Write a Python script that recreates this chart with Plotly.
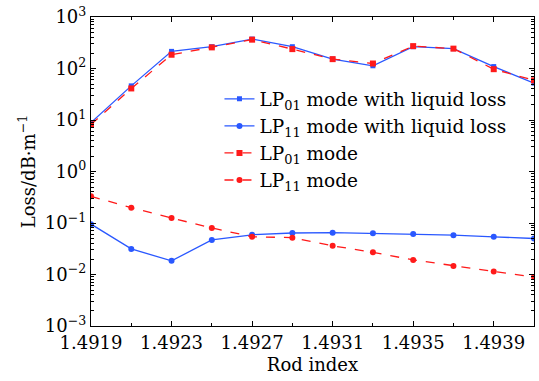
import plotly.graph_objects as go

# Rod refractive index (x) and modal losses in dB/m
rod_index = [1.4919, 1.4921, 1.4923, 1.4925, 1.4927, 1.4929,
             1.4931, 1.4933, 1.4935, 1.4937, 1.4939, 1.4941]

lp01_liquid = [8.9, 46, 215, 265, 373, 265, 152, 113, 265, 243, 109, 52]
lp11_liquid = [0.095, 0.0314, 0.0184, 0.047, 0.059, 0.064,
               0.065, 0.063, 0.061, 0.058, 0.054, 0.050]
lp01 = [8.2, 41, 185, 257, 363, 238, 152, 125, 272, 243, 97, 59]
lp11 = [0.33, 0.198, 0.125, 0.080, 0.054, 0.052,
        0.036, 0.027, 0.0192, 0.0147, 0.0114, 0.0089]

x_ticks = [1.4919, 1.4923, 1.4927, 1.4931, 1.4935, 1.4939]
y_exps = [-3, -2, -1, 0, 1, 2, 3]

BLUE = "#2a58ff"
RED = "#ff1a1a"
FONT = "DejaVu Serif"

fig = go.Figure()
fig.add_trace(go.Scatter(
    x=rod_index, y=lp01_liquid, mode="lines+markers",
    name="LP<sub>01</sub> mode with liquid loss",
    line=dict(color=BLUE, width=1.3),
    marker=dict(symbol="square", size=5, color=BLUE)))
fig.add_trace(go.Scatter(
    x=rod_index, y=lp11_liquid, mode="lines+markers",
    name="LP<sub>11</sub> mode with liquid loss",
    line=dict(color=BLUE, width=1.3),
    marker=dict(symbol="circle", size=6, color=BLUE)))
fig.add_trace(go.Scatter(
    x=rod_index, y=lp01, mode="lines+markers",
    name="LP<sub>01</sub> mode",
    line=dict(color=RED, width=1.3, dash="dash"),
    marker=dict(symbol="square", size=6, color=RED)))
fig.add_trace(go.Scatter(
    x=rod_index, y=lp11, mode="lines+markers",
    name="LP<sub>11</sub> mode",
    line=dict(color=RED, width=1.3, dash="dash"),
    marker=dict(symbol="circle", size=6, color=RED)))

fig.update_layout(
    width=539, height=381,
    margin=dict(l=91, r=4, t=15, b=55),
    plot_bgcolor="white", paper_bgcolor="white",
    font=dict(family=FONT, size=18, color="black"),
    showlegend=True,
    legend=dict(x=0.29, y=0.795, xanchor="left", yanchor="top",
                bgcolor="rgba(0,0,0,0)", borderwidth=0,
                font=dict(family=FONT, size=18.5),
                tracegroupgap=0, itemwidth=30),
)

fig.update_xaxes(
    range=[1.4919, 1.4941],
    tickvals=x_ticks, ticktext=[f"{v:.4f}" for v in x_ticks],
    tickfont=dict(size=18),
    ticks="inside", ticklen=5, tickcolor="black",
    minor=dict(ticks="inside", ticklen=3, dtick=0.0002, tick0=1.4919, tickcolor="black"),
    showline=True, linecolor="black", linewidth=1.2, mirror="allticks",
    showgrid=False, zeroline=False,
    title=dict(text="Rod index", standoff=6, font=dict(size=18)),
)

fig.update_yaxes(
    type="log", range=[-3, 3],
    tickvals=[10.0 ** e for e in y_exps],
    ticktext=[f"10<sup>{e}</sup>".replace("-", "\u2212") for e in y_exps],
    tickfont=dict(size=18),
    ticks="inside", ticklen=5, tickcolor="black",
    minor=dict(ticks="inside", ticklen=3, dtick="D1", tickcolor="black"),
    showline=True, linecolor="black", linewidth=1.2, mirror="allticks",
    showgrid=False, zeroline=False,
    title=dict(text="Loss/dB\u00b7m<sup>\u22121</sup>", standoff=4, font=dict(size=18)),
)

fig.write_html("out.html")
